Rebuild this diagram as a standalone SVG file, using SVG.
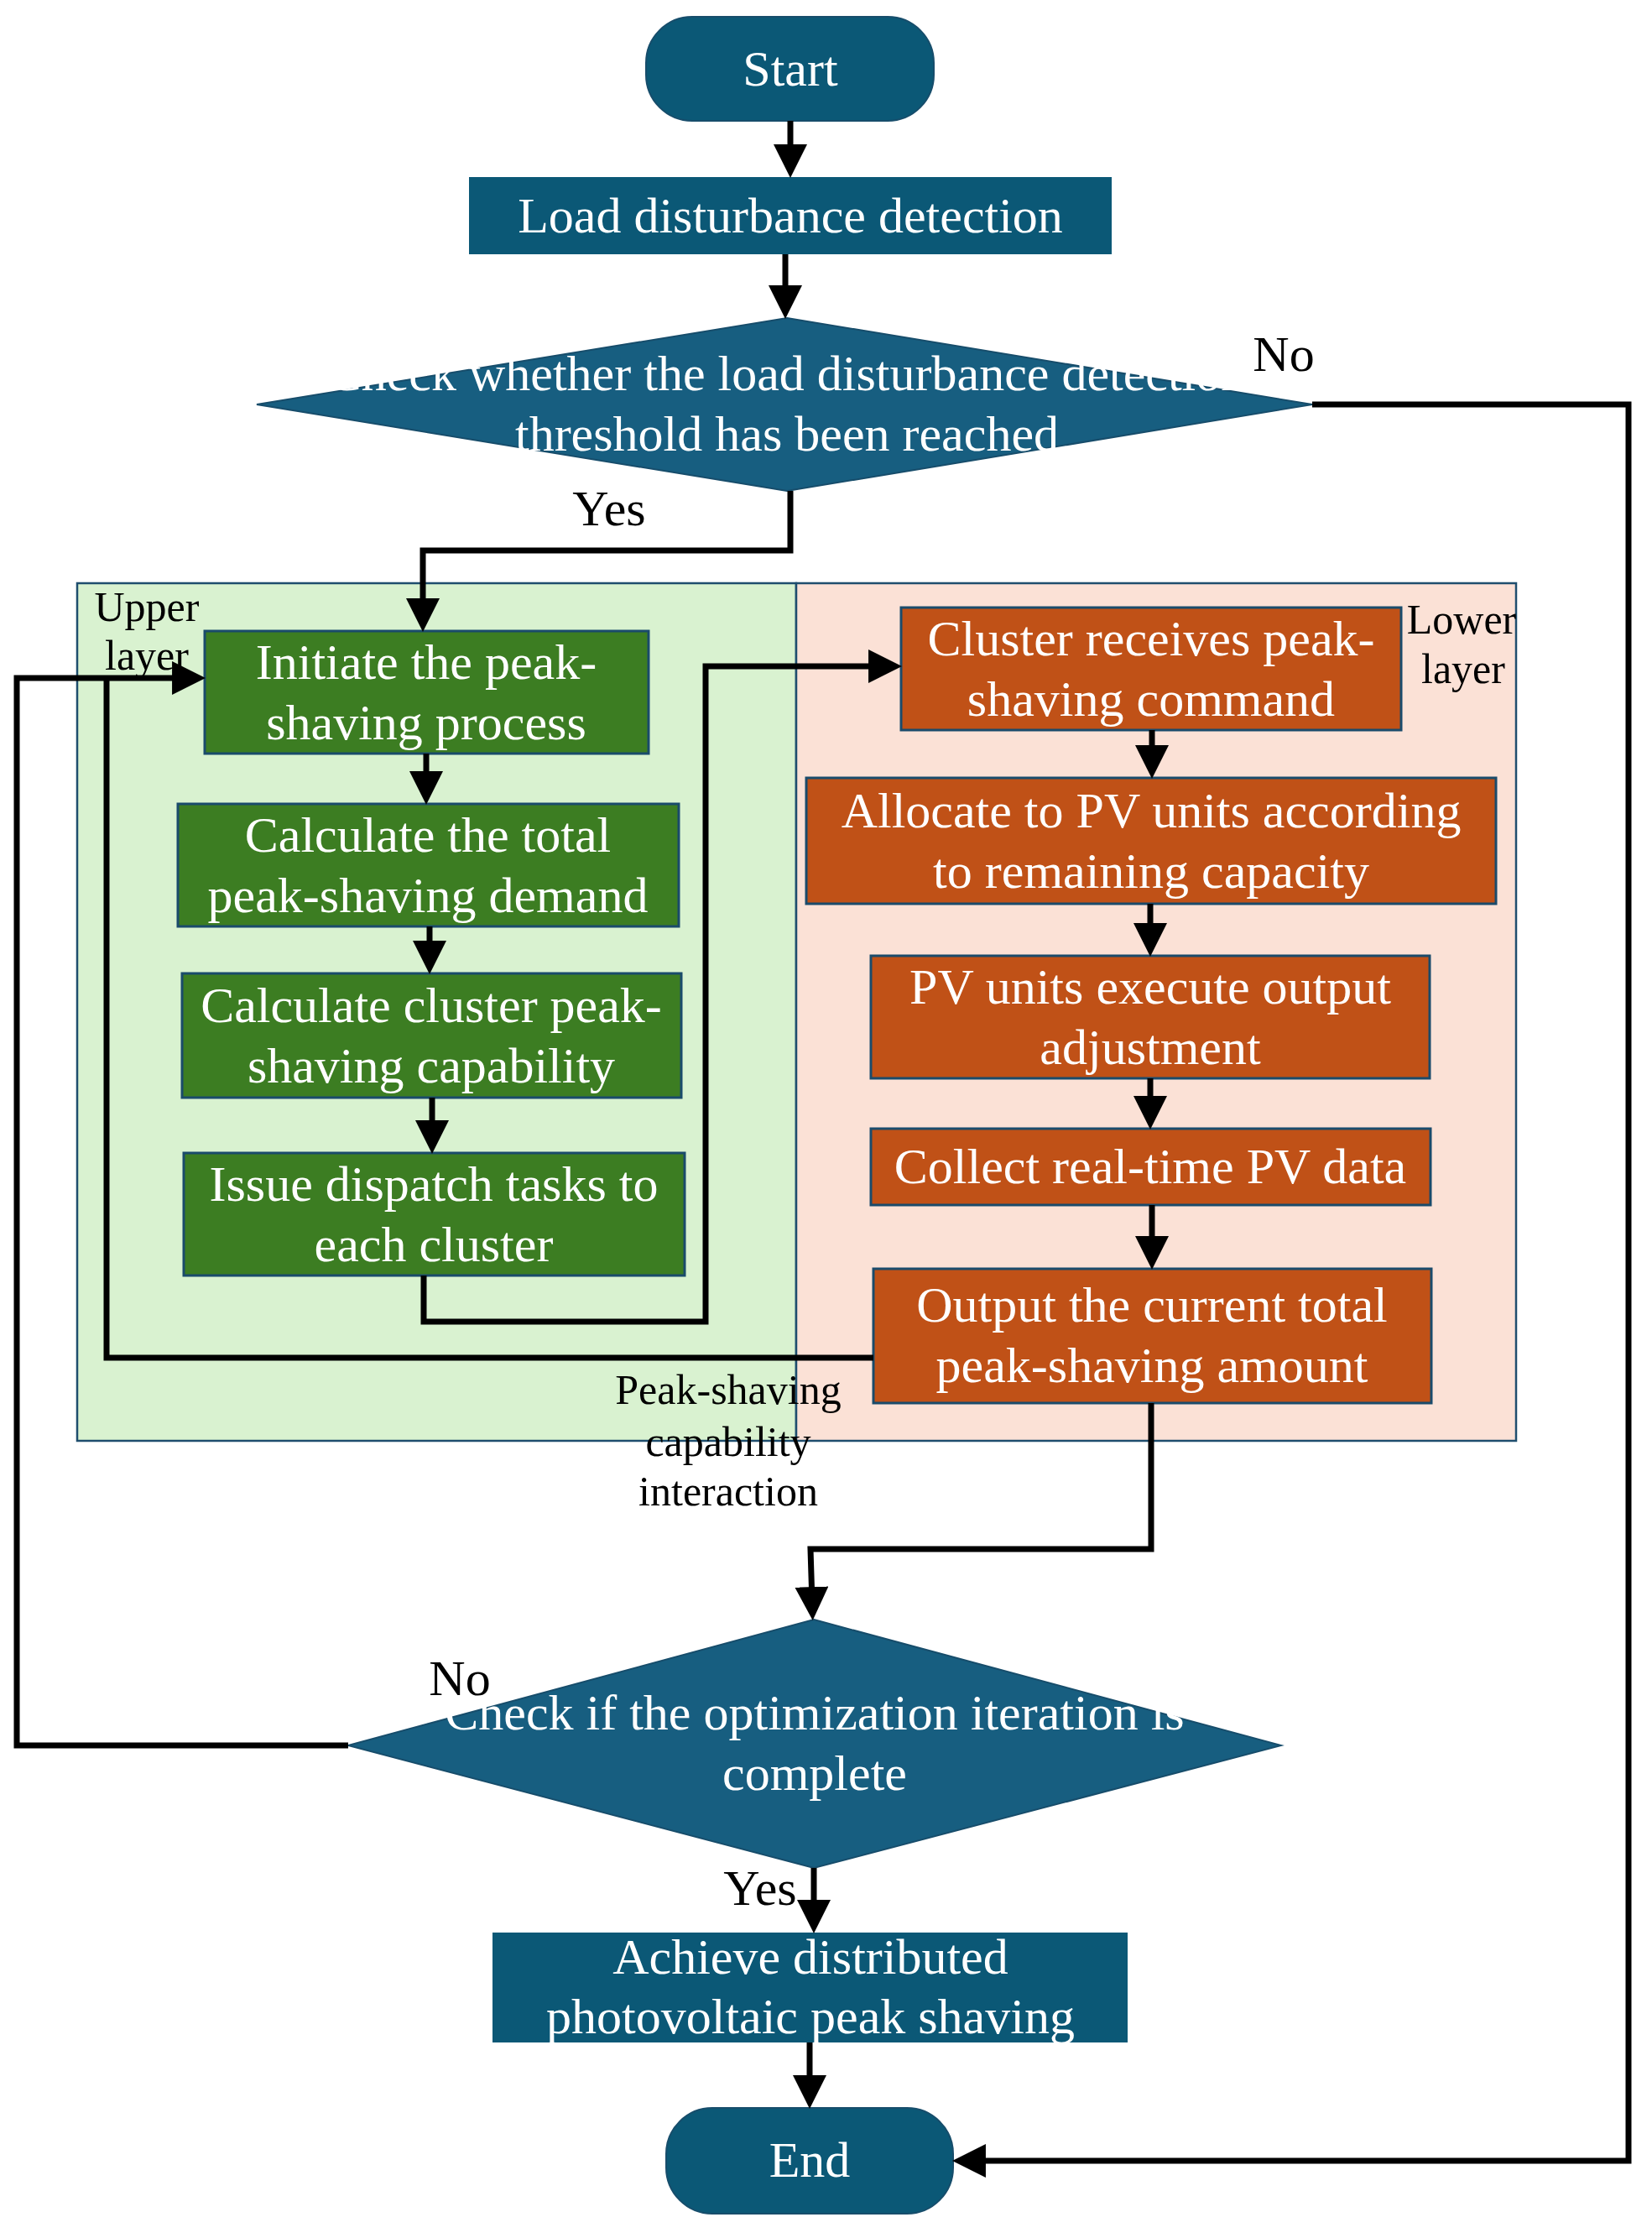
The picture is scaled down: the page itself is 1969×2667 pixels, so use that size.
<svg xmlns="http://www.w3.org/2000/svg" width="1969" height="2667" viewBox="0 0 1969 2667">
<defs>
<style>
.t{font-family:"Liberation Serif","Times New Roman",serif;font-size:60px;fill:#ffffff;text-anchor:middle}
.lb{font-family:"Liberation Serif","Times New Roman",serif;font-size:60px;fill:#000000;text-anchor:middle}
.sm{font-family:"Liberation Serif","Times New Roman",serif;font-size:50px;fill:#000000;text-anchor:middle}
.term{fill:#0b5876;stroke:#174d6b;stroke-width:2}
.proc{fill:#0b5876;stroke:none}
.dec{fill:#175e80;stroke:#174d6b;stroke-width:2}
.gn{fill:#3c7d22;stroke:#1a4b6b;stroke-width:3}
.or{fill:#c05117;stroke:#1a4b6b;stroke-width:3}
.conn{fill:none;stroke:#000000;stroke-width:7;stroke-linejoin:miter}
</style>
<marker id="arr" markerUnits="userSpaceOnUse" markerWidth="40" markerHeight="40" viewBox="0 0 38 38" refX="18" refY="19" orient="auto">
<path d="M0,0 L38,19 L0,38 z" fill="#000000"/>
</marker>
</defs>
<rect width="1969" height="2667" fill="#ffffff"/>

<g id="upper-layer">
<rect x="92" y="695" width="857" height="1022" fill="#d9f2d0" stroke="#1f4e6e" stroke-width="2.5"/>
<text class="sm" x="175" y="740">Upper</text>
<text class="sm" x="175" y="798">layer</text>
</g>
<g id="lower-layer">
<rect x="949" y="695" width="858" height="1022" fill="#fbe1d6" stroke="#1f4e6e" stroke-width="2.5"/>
<text class="sm" x="1742" y="755">Lower</text>
<text class="sm" x="1744" y="814">layer</text>
</g>

<g id="start">
<rect class="term" x="770" y="20" width="343" height="124" rx="55" ry="55"/>
<text class="t" x="942" y="102">Start</text>
</g>
<g id="load-detection">
<rect class="proc" x="559" y="211" width="766" height="92"/>
<text class="t" x="942" y="277">Load disturbance detection</text>
</g>
<g id="check-threshold">
<polygon class="dec" points="938,379 1564,482 938,585 306,482"/>
<text class="t" x="938" y="465">Check whether the load disturbance detection</text>
<text class="t" x="938" y="537">threshold has been reached</text>
</g>

<g id="initiate">
<rect class="gn" x="244" y="752" width="529" height="146"/>
<text class="t" x="508" y="809">Initiate the peak-</text>
<text class="t" x="508" y="881">shaving process</text>
</g>
<g id="calc-total">
<rect class="gn" x="212" y="958" width="597" height="146"/>
<text class="t" x="510" y="1015">Calculate the total</text>
<text class="t" x="510" y="1087">peak-shaving demand</text>
</g>
<g id="calc-cluster">
<rect class="gn" x="217" y="1160" width="595" height="148"/>
<text class="t" x="514" y="1218">Calculate cluster peak-</text>
<text class="t" x="514" y="1290">shaving capability</text>
</g>
<g id="issue">
<rect class="gn" x="219" y="1374" width="597" height="146"/>
<text class="t" x="517" y="1431">Issue dispatch tasks to</text>
<text class="t" x="517" y="1503">each cluster</text>
</g>

<g id="cluster-receives">
<rect class="or" x="1074" y="724" width="596" height="146"/>
<text class="t" x="1372" y="781">Cluster receives peak-</text>
<text class="t" x="1372" y="853">shaving command</text>
</g>
<g id="allocate">
<rect class="or" x="961" y="927" width="822" height="150"/>
<text class="t" x="1372" y="986">Allocate to PV units according</text>
<text class="t" x="1372" y="1058">to remaining capacity</text>
</g>
<g id="pv-execute">
<rect class="or" x="1038" y="1139" width="666" height="146"/>
<text class="t" x="1371" y="1196">PV units execute output</text>
<text class="t" x="1371" y="1268">adjustment</text>
</g>
<g id="collect">
<rect class="or" x="1038" y="1345" width="667" height="91"/>
<text class="t" x="1371" y="1410">Collect real-time PV data</text>
</g>
<g id="output">
<rect class="or" x="1041" y="1512" width="665" height="160"/>
<text class="t" x="1373" y="1575">Output the current total</text>
<text class="t" x="1373" y="1647">peak-shaving amount</text>
</g>

<g id="check-iteration">
<polygon class="dec" points="970,1930 1527,2080 970,2226 415,2080"/>
<text class="t" x="971" y="2061">Check if the optimization iteration is</text>
<text class="t" x="971" y="2133">complete</text>
</g>
<g id="achieve">
<rect class="proc" x="587" y="2303" width="757" height="131"/>
<text class="t" x="966" y="2352">Achieve distributed</text>
<text class="t" x="966" y="2423">photovoltaic peak shaving</text>
</g>
<g id="end">
<rect class="term" x="794" y="2512" width="342" height="126" rx="55" ry="55"/>
<text class="t" x="965" y="2594">End</text>
</g>

<g id="connectors">
<path class="conn" d="M942,144 L942,191" marker-end="url(#arr)"/>
<path class="conn" d="M936,303 L936,359" marker-end="url(#arr)"/>
<path class="conn" d="M942,585 L942,656 L504,656 L504,732" marker-end="url(#arr)"/>
<path class="conn" d="M1564,482 L1941,482 L1941,2575 L1156,2575" marker-end="url(#arr)"/>
<path class="conn" d="M508,898 L508,938" marker-end="url(#arr)"/>
<path class="conn" d="M512,1104 L512,1140" marker-end="url(#arr)"/>
<path class="conn" d="M515,1308 L515,1354" marker-end="url(#arr)"/>
<path class="conn" d="M505,1520 L505,1575 L841,1575 L841,794 L1054,794" marker-end="url(#arr)"/>
<path class="conn" d="M1373,870 L1373,907" marker-end="url(#arr)"/>
<path class="conn" d="M1371,1077 L1371,1119" marker-end="url(#arr)"/>
<path class="conn" d="M1371,1285 L1371,1325" marker-end="url(#arr)"/>
<path class="conn" d="M1373,1436 L1373,1492" marker-end="url(#arr)"/>
<path class="conn" d="M1041,1618 L127,1618 L127,808"/>
<path class="conn" d="M1372,1672 L1372,1846 L966,1846 L968,1910" marker-end="url(#arr)"/>
<path class="conn" d="M415,2080 L20,2080 L20,808 L224,808" marker-end="url(#arr)"/>
<path class="conn" d="M970,2226 L970,2283" marker-end="url(#arr)"/>
<path class="conn" d="M965,2434 L965,2492" marker-end="url(#arr)"/>
</g>

<g id="labels">
<text class="lb" x="1530" y="442">No</text>
<text class="lb" x="726" y="626">Yes</text>
<text class="lb" x="548" y="2020">No</text>
<text class="lb" x="906" y="2270">Yes</text>
<text class="sm" x="868" y="1673">Peak-shaving</text>
<text class="sm" x="868" y="1735">capability</text>
<text class="sm" x="868" y="1794">interaction</text>
</g>
</svg>
